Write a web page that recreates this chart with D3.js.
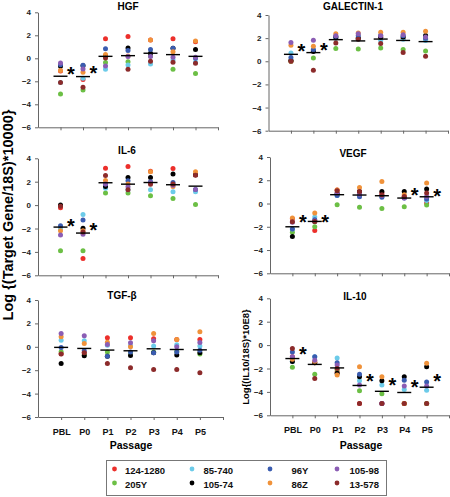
<!DOCTYPE html>
<html><head><meta charset="utf-8">
<script src="https://cdn.jsdelivr.net/npm/d3@7"></script>
<style>body{margin:0;background:#fff}svg text{font-family:"Liberation Sans",Arial,sans-serif}</style>
</head><body><svg id="c" width="450" height="497"></svg>
<script>
const passages = ["PBL","P0","P1","P2","P3","P4","P5"];
const donors = ["124-1280","205Y","85-740","105-74","96Y","86Z","105-98","13-578"];
const donorColors = ["#ec2f2b","#6cbf45","#6ccbe9","#000000","#3a5cb0","#f0923a","#8b5db4","#8c2b2b"];
const yTicks = [-6,-4,-2,0,2,4];

const hgf = [
  [-1.1,-1.85,1.69,1.89,1.6,1.69,1.45],
  [-3.1,-2.75,-0.37,-0.31,0.2,-0.96,-1.33],
  [-2.1,-1.74,-0.96,-0.58,-0.49,-0.14,-0.35],
  [-0.7,-0.65,0.2,0.9,0.45,0.87,0.76],
  [-0.55,-0.6,0.82,0.67,0.76,0.87,0.0],
  [-1.05,-1.22,0.32,0.2,1.6,0.58,1.5],
  [-0.4,-0.92,-0.66,0.15,0.15,0.09,0.09],
  [-2.1,-2.52,0.03,-0.96,-0.26,-0.35,-0.43]];
const hgfMean = [-1.56,-1.59,0.17,0.23,0.44,0.32,0.17];
const hgfStars = [[0,-1.07],[1,-0.98]];

const gal = [
  [0.0,0.9,2.0,2.0,2.1,2.0,1.9],
  [0.0,0.29,1.1,1.07,1.15,1.01,0.89],
  [0.72,1.0,2.0,1.9,1.8,1.9,1.8],
  [0.09,0.85,2.1,2.01,2.07,2.1,2.22],
  [0.32,1.0,2.16,2.2,2.25,2.2,2.0],
  [1.38,1.3,2.39,2.45,2.5,2.5,2.6],
  [1.62,1.82,2.2,2.39,2.2,2.3,2.1],
  [0.0,-0.78,1.58,1.9,1.53,0.75,0.43]];
const galMean = [0.6,0.75,1.87,1.76,1.92,1.8,1.7];
const galStars = [[0,1.18],[1,1.24]];

const il6 = [
  [-0.23,-4.56,3.16,3.3,2.9,3.13,2.6],
  [-3.9,-3.9,1.03,1.03,0.8,0.57,0.05],
  [-2.0,-0.8,1.45,1.31,1.31,1.14,1.14],
  [0.0,-1.97,1.59,2.36,2.36,2.65,2.6],
  [-1.77,-1.28,1.8,2.08,2.0,1.93,1.33],
  [-2.2,-2.2,2.1,1.8,2.85,1.59,2.85],
  [-2.56,-2.5,1.8,1.56,1.9,1.7,1.33],
  [-0.1,-2.3,2.53,1.31,1.79,1.8,2.56]];
const il6Mean = [-1.88,-2.39,1.91,1.79,1.93,1.74,1.62];
const il6Stars = [[0,-1.49],[1,-1.85]];

const vegf = [
  [-1.3,-2.31,1.16,1.0,0.9,0.6,0.04],
  [-2.48,-2.0,-0.1,-0.33,-0.42,-0.28,-0.13],
  [-2.19,-1.16,0.7,0.7,0.6,0.5,0.25],
  [-2.83,-1.54,0.87,1.04,1.04,1.04,1.25],
  [-2.2,-1.39,0.68,0.58,0.53,0.47,0.39],
  [-1.25,-0.82,1.16,1.38,1.9,0.76,1.76],
  [-1.6,-1.5,0.9,0.8,0.7,0.47,0.6],
  [-1.57,-1.55,1.1,1.04,0.75,0.6,0.9]];
const vegfMean = [-2.0,-1.54,0.76,0.73,0.67,0.47,0.58];
const vegfStars = [[0,-1.25],[1,-1.33],[5,1.04],[6,0.95]];

const tgf = [
  [-0.6,-0.51,0.77,0.77,0.68,0.63,0.63],
  [-0.43,-0.71,-0.45,-0.5,-0.45,-0.4,-0.62],
  [0.57,0.51,0.14,0.1,0.06,0.17,0.06],
  [-1.42,-0.77,-0.8,-0.74,-0.51,-0.71,-0.5],
  [-0.05,-0.34,-0.8,-0.45,-0.51,-0.45,-0.3],
  [0.85,0.28,0.38,0.0,1.14,0.63,1.28],
  [1.14,0.94,0.2,0.34,0.51,0.0,0.37],
  [-0.62,-0.51,-1.42,-1.79,-1.93,-1.93,-2.22]];
const tgfMean = [-0.05,-0.14,-0.28,-0.34,-0.17,-0.23,-0.26];
const tgfStars = [];

const il10 = [
  [-1.0,-1.5,-2.3,-5,-5,-5,-5],
  [-1.9,-2.5,-2.1,-3.9,-4.15,-5,-5],
  [-1.4,-1.0,-1.1,-3.05,-3.4,-3.8,-3.85],
  [-1.4,-1.5,-2.4,-2.7,-3.05,-2.7,-1.85],
  [-0.6,-1.0,-1.5,-2.5,-5,-3.0,-3.15],
  [-1.2,-1.4,-2.55,-1.85,-2.7,-5,-1.55],
  [-1.0,-1.3,-1.7,-3.4,-5,-3.5,-3.5],
  [-0.3,-2.85,-2.0,-5,-5,-5,-5]];
const il10Mean = [-1.15,-1.65,-1.95,-3.45,-3.95,-4.05,-3.6];
const il10Stars = [[0,-0.5],[3,-2.8],[4,-3.1],[5,-3.3],[6,-2.8]];

const panels = [
  {title:"HGF", data:hgf, mean:hgfMean, stars:hgfStars, x0:38, x1:218, yt:12.3, yb:127.3, tx:128, ty:9.5, bottom:false},
  {title:"GALECTIN-1", data:gal, mean:galMean, stars:galStars, x0:268.5, x1:448, yt:15, yb:130.7, tx:353, ty:9.5, bottom:false},
  {title:"IL-6", data:il6, mean:il6Mean, stars:il6Stars, x0:38, x1:218, yt:158.3, yb:275.3, tx:127, ty:154, bottom:false},
  {title:"VEGF", data:vegf, mean:vegfMean, stars:vegfStars, x0:270, x1:449, yt:157, yb:273.3, tx:353, ty:157, bottom:false},
  {title:"TGF-\u03B2", data:tgf, mean:tgfMean, stars:tgfStars, x0:38, x1:223, yt:300, yb:417, tx:122, ty:299, bottom:true},
  {title:"IL-10", data:il10, mean:il10Mean, stars:il10Stars, x0:270, x1:449, yt:298.3, yb:415.3, tx:355, ty:300, bottom:true}
];

const svg = d3.select("#c");
const axisColor = "#666";

panels.forEach(p => {
  const g = svg.append("g");
  const x = d3.scaleLinear().domain([0,8]).range([p.x0,p.x1]);
  const y = d3.scaleLinear().domain([-6,4]).range([p.yb,p.yt]);

  const ya = g.append("g").attr("transform",`translate(${p.x0},0)`)
    .call(d3.axisLeft(y).tickValues(yTicks).tickSize(3).tickSizeOuter(0).tickFormat(d3.format("d")));
  const xa = g.append("g").attr("transform",`translate(0,${p.yb})`)
    .call(d3.axisBottom(x).tickValues([1,2,3,4,5,6,7,8]).tickSize(3).tickSizeOuter(0)
      .tickFormat(i => p.bottom && i<=7 ? passages[i-1] : ""));
  [ya,xa].forEach(a => {
    a.selectAll("path,line").attr("stroke",axisColor);
    a.selectAll("text").attr("fill","#222").style("font-weight","bold").style("font-size","8px");
  });
  ya.selectAll("text").attr("dx","-1");
  xa.selectAll("text").attr("dy","1.35em").style("font-size","9px").attr("fill","#111");

  g.append("text").attr("x",p.tx).attr("y",p.ty).attr("text-anchor","middle")
    .style("font-weight","bold").style("font-size","10px").text(p.title);

  p.data.forEach((row,si) => {
    g.selectAll(null).data(row).enter().append("circle")
      .attr("cx",(d,i)=>x(i+1)).attr("cy",d=>y(d)).attr("r",2.5)
      .attr("fill",donorColors[si]);
  });
  g.selectAll(null).data(p.mean).enter().append("line")
    .attr("x1",(d,i)=>x(i+1)-7).attr("x2",(d,i)=>x(i+1)+7)
    .attr("y1",d=>y(d)).attr("y2",d=>y(d))
    .attr("stroke","#000").attr("stroke-width",1.4);
  g.selectAll(null).data(p.stars).enter().append("text")
    .attr("x",d=>x(d[0]+1)+10.5).attr("y",d=>y(d[1])+10.5)
    .attr("text-anchor","middle").style("font-size","20px").style("font-weight","bold")
    .text("*");
});

// axis titles
svg.append("text").attr("transform","translate(13,215) rotate(-90)").attr("text-anchor","middle")
  .style("font-weight","bold").style("font-size","14.5px").text("Log {(Target Gene/18S)*10000}");
svg.append("text").attr("transform","translate(249,357) rotate(-90)").attr("text-anchor","middle")
  .style("font-weight","bold").style("font-size","9.5px").text("Log{(IL10/18S)*10E8}");
svg.append("text").attr("x",131).attr("y",449).attr("text-anchor","middle")
  .style("font-weight","bold").style("font-size","10.5px").text("Passage");
svg.append("text").attr("x",361).attr("y",449).attr("text-anchor","middle")
  .style("font-weight","bold").style("font-size","10.5px").text("Passage");

// legend
const lg = svg.append("g");
lg.append("rect").attr("x",106.5).attr("y",460.5).attr("width",280).attr("height",35)
  .attr("fill","#fff").attr("stroke","#777");
const colX = [114.5,192,270,337];
const textX = [125,203.5,291.5,349.5];
donors.forEach((d,i) => {
  const c = Math.floor(i/2), r = i%2;
  const cy = 470 + r*14;
  lg.append("circle").attr("cx",colX[c]).attr("cy",cy-1).attr("r",2.4).attr("fill",donorColors[i]);
  lg.append("text").attr("x",textX[c]).attr("y",cy+3.5)
    .style("font-weight","bold").style("font-size","9.5px").attr("fill","#111").text(d);
});
</script></body></html>
